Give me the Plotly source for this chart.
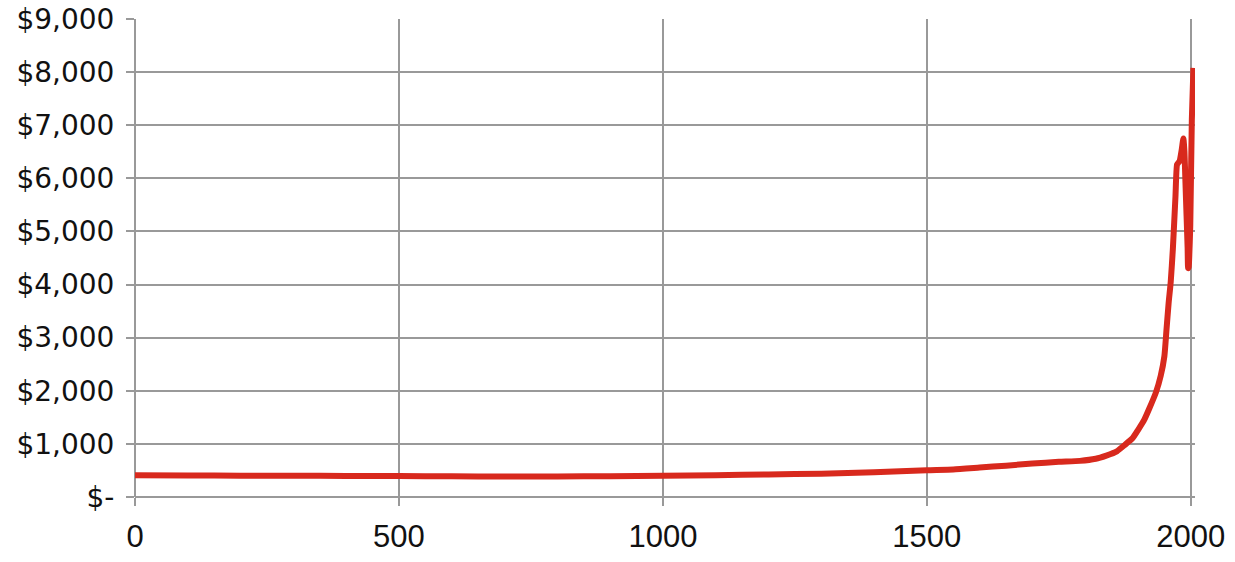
import plotly.graph_objects as go

# values
years = [0, 100, 200, 300, 400, 500, 600, 700, 800, 900, 1000, 1100, 1200, 1300, 1400,
         1500, 1550, 1600, 1650, 1700, 1750, 1790, 1820, 1840, 1860, 1875, 1890, 1900,
         1912, 1921, 1934, 1943, 1950, 1954, 1958, 1962, 1966, 1971, 1974, 1977, 1979,
         1983, 1986, 1988, 1990, 1992, 1994, 1995, 1996, 1997, 1999, 2002, 2005]
values = [410, 405, 402, 399, 397, 395, 390, 386, 388, 392, 398, 410, 425, 440, 465,
          505, 520, 555, 590, 630, 662, 680, 720, 780, 860, 980, 1110, 1260,
          1456, 1656, 1970, 2280, 2650, 3150, 3650, 4050, 4660, 5660, 6260, 6300, 6330,
          6550, 6750, 6500, 5900, 5300, 4700, 4310, 4330, 4500, 5100, 7100, 8080]

y_ticks = [0, 1000, 2000, 3000, 4000, 5000, 6000, 7000, 8000, 9000]
y_labels = ["$-", "$1,000", "$2,000", "$3,000", "$4,000", "$5,000",
            "$6,000", "$7,000", "$8,000", "$9,000"]
x_ticks = [0, 500, 1000, 1500, 2000]

grid = "#999999"

fig = go.Figure()
fig.add_trace(go.Scatter(x=years, y=values, mode="lines",
                         line=dict(color="#d8291d", width=6, shape="spline", smoothing=0.5),
                         showlegend=False))

fig.update_xaxes(range=[0, 2008], tickvals=x_ticks, ticktext=[str(t) for t in x_ticks],
                 showgrid=True, gridcolor=grid, gridwidth=1.5,
                 zeroline=True, zerolinecolor=grid, zerolinewidth=1.5,
                 ticks="outside", ticklen=8, tickcolor=grid, tickwidth=1.5,
                 ticklabelstandoff=4, automargin=False, ticklabeloverflow="allow",
                 tickfont=dict(family="Liberation Sans", size=31, color="#111111"))
fig.update_yaxes(range=[0, 9000], tickvals=y_ticks, ticktext=y_labels,
                 showgrid=True, gridcolor=grid, gridwidth=1.5,
                 zeroline=True, zerolinecolor=grid, zerolinewidth=1.5,
                 ticks="outside", ticklen=8, tickcolor=grid, tickwidth=1.5,
                 ticklabelstandoff=6, automargin=False, ticklabeloverflow="allow",
                 tickfont=dict(family="DejaVu Sans", size=28, color="#111111"))

fig.update_layout(width=1235, height=562,
                  margin=dict(l=135, r=40, t=19, b=65, autoexpand=False),
                  plot_bgcolor="white", paper_bgcolor="white")

# drop the default 8px body margin so the figure sits at the window corner
fig.write_html("out.html", config={"displayModeBar": False},
               post_script="document.body.style.margin='0';")
